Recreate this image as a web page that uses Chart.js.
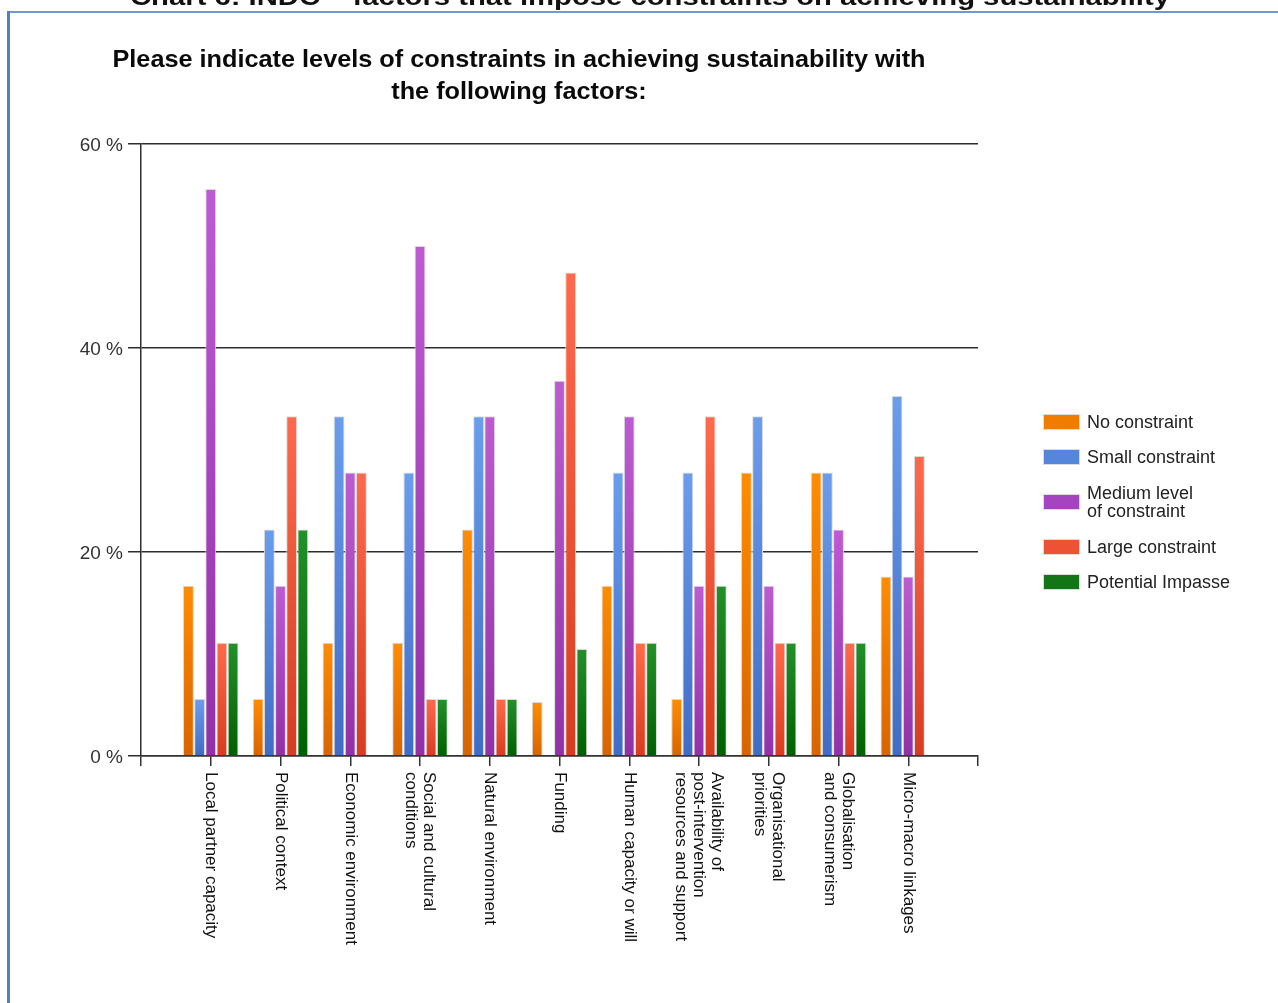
<!DOCTYPE html>
<html>
<head>
<meta charset="utf-8">
<title>Constraints in achieving sustainability</title>
<script src="https://cdn.jsdelivr.net/npm/chart.js@4.4.1/dist/chart.umd.min.js"></script>
<style>
  html, body { margin: 0; padding: 0; background: #ffffff; overflow: hidden; }
  #wrap { position: relative; width: 1278px; height: 1003px; overflow: hidden; }
  #chart { position: absolute; left: 0; top: 0; }
</style>
</head>
<body>
<div id="wrap"><canvas id="chart" width="1278" height="1003"></canvas></div>
<script>
// Survey factors (x axis), one entry per group; inner arrays are the wrapped lines
const categories = [
  ['Local partner capacity'],
  ['Political context'],
  ['Economic environment'],
  ['Social and cultural', 'conditions'],
  ['Natural environment'],
  ['Funding'],
  ['Human capacity or will'],
  ['Availability of', 'post-intervention', 'resources and support'],
  ['Organisational', 'priorities'],
  ['Globalisation', 'and consumerism'],
  ['Micro-macro linkages']
];

// Response levels (legend); "\n" marks a line break in the legend
const seriesNames = ['No constraint', 'Small constraint', 'Medium level\nof constraint', 'Large constraint', 'Potential Impasse'];

// Share of respondents (%) per factor
const noConstraint     = [16.7,  5.6, 11.1, 11.1, 22.2,  5.3, 16.7,  5.6, 27.8, 27.8, 17.6];
const smallConstraint  = [ 5.6, 22.2, 33.3, 27.8, 33.3,  0,   27.8, 27.8, 33.3, 27.8, 35.3];
const mediumConstraint = [55.6, 16.7, 27.8, 50.0, 33.3, 36.8, 33.3, 16.7, 16.7, 22.2, 17.6];
const largeConstraint  = [11.1, 33.3, 27.8,  5.6,  5.6, 47.4, 11.1, 33.3, 11.1, 11.1, 29.4];
const impasse          = [11.1, 22.2,  0,    5.6,  5.6, 10.5, 11.1, 16.7, 11.1, 11.1,  0  ];

// Y axis ticks
const yTicks = [0, 20, 40, 60];

const titleLines = ['Please indicate levels of constraints in achieving sustainability with', 'the following factors:'];
const captionText = 'Chart 6: INDC \u2013 factors that impose constraints on achieving sustainability';

// Bar shading: top colour, bottom colour, legend swatch colour
const barTop    = ['#ff8c00', '#6b9ded', '#bd5bd2', '#ff6a4c', '#23902a'];
const barBottom = ['#d86400', '#3f6cc6', '#9230a8', '#d83c1e', '#006000'];
const swatch    = ['#f07c00', '#5486dc', '#a444c0', '#ee5234', '#137515'];

const FONT = '"Liberation Sans", Arial, sans-serif';

// One empty slot on each side so the groups sit at 1..11 of a 0..12 axis
const slotLabels = ['', ...categories.map(c => c.join(' ')), ''];
const pad = arr => [null, ...arr, null];

function shade(i) {
  return function (c) {
    const y = c.chart.scales && c.chart.scales.y;
    if (!y || c.type !== 'data' || c.raw == null) return barBottom[i];
    const y0 = y.getPixelForValue(c.raw);
    const y1 = y.getPixelForValue(0);
    if (!isFinite(y0) || !isFinite(y1) || y1 - y0 < 1) return barTop[i];
    const g = c.chart.ctx.createLinearGradient(0, y0, 0, y1);
    g.addColorStop(0, barTop[i]);
    g.addColorStop(1, barBottom[i]);
    return g;
  };
}

const seriesValues = [noConstraint, smallConstraint, mediumConstraint, largeConstraint, impasse];

const datasets = seriesValues.map((vals, i) => ({
  label: seriesNames[i],
  data: pad(vals),
  backgroundColor: shade(i),
  borderColor: '#d9d9d9',
  borderWidth: 1,
  borderSkipped: 'bottom',
  categoryPercentage: 0.8,
  barPercentage: 0.97
}));

// Caption, frame, title, rotated category labels and legend
const decor = {
  id: 'decor',
  beforeDraw(chart) {
    const ctx = chart.ctx;
    ctx.save();
    ctx.fillStyle = '#ffffff';
    ctx.fillRect(0, 0, chart.width, chart.height);
    // caption above the frame (mostly cut off by the page edge)
    ctx.fillStyle = '#111111';
    ctx.font = 'bold 24px ' + FONT;
    const cw = ctx.measureText(captionText).width;
    ctx.translate(650, 0);
    ctx.scale(1040 / cw, 1);
    ctx.textAlign = 'center';
    ctx.textBaseline = 'alphabetic';
    ctx.fillText(captionText, 0, 5);
    ctx.restore();
    // frame
    ctx.save();
    ctx.fillStyle = '#7199cd';
    ctx.fillRect(7, 11, chart.width - 7, 2);
    ctx.fillStyle = '#4f81bd';
    ctx.fillRect(7, 11, 3, chart.height - 11);
    ctx.restore();
  },
  afterDraw(chart) {
    const ctx = chart.ctx;
    // title
    ctx.save();
    ctx.fillStyle = '#0a0a0a';
    ctx.font = 'bold 24.5px ' + FONT;
    const tw = ctx.measureText(titleLines[0]).width;
    ctx.translate(519, 0);
    ctx.scale(813 / tw, 1);
    ctx.textAlign = 'center';
    ctx.textBaseline = 'alphabetic';
    ctx.fillText(titleLines[0], 0, 67);
    ctx.fillText(titleLines[1], 0, 99);
    ctx.restore();

    // category labels, rotated to read downwards
    const xs = chart.scales.x;
    const LH = 18;
    ctx.save();
    ctx.fillStyle = '#111111';
    ctx.font = '17px ' + FONT;
    categories.forEach((lines, i) => {
      const px = xs.getPixelForValue(i + 1);
      lines.forEach((t, k) => {
        const off = ((lines.length - 1) / 2 - k) * LH;
        ctx.save();
        ctx.translate(px + off, 772);
        ctx.rotate(Math.PI / 2);
        ctx.textAlign = 'left';
        ctx.textBaseline = 'middle';
        ctx.fillText(t, 0, 0);
        ctx.restore();
      });
    });
    ctx.restore();

    // legend
    ctx.save();
    ctx.font = '18px ' + FONT;
    ctx.textBaseline = 'middle';
    ctx.textAlign = 'left';
    let cy = 422;
    let prevExtra = 0;
    chart.data.datasets.forEach((ds, i) => {
      const lines = String(ds.label).split('\n');
      const extra = (lines.length - 1) * 10;
      if (i > 0) cy += 35 + prevExtra + extra;
      prevExtra = extra;
      ctx.fillStyle = '#dcdcdc';
      ctx.fillRect(1043, cy - 8, 37, 16);
      ctx.fillStyle = swatch[i];
      ctx.fillRect(1044, cy - 7, 35, 14);
      ctx.fillStyle = '#222222';
      lines.forEach((t, k) => {
        ctx.fillText(t, 1087, cy + 1 + (k - (lines.length - 1) / 2) * 18);
      });
    });
    ctx.restore();
  }
};

new Chart(document.getElementById('chart'), {
  type: 'bar',
  data: { labels: slotLabels, datasets },
  plugins: [decor],
  options: {
    responsive: false,
    animation: false,
    events: [],
    layout: { padding: { top: 144, right: 300, bottom: 0, left: 0 } },
    plugins: {
      legend: { display: false },
      title: { display: false },
      tooltip: { enabled: false }
    },
    scales: {
      x: {
        type: 'category',
        offset: false,
        grid: {
          offset: false,
          drawOnChartArea: false,
          drawTicks: true,
          tickLength: 10,
          color: '#333333',
          lineWidth: 1.5
        },
        border: { display: true, color: '#333333', width: 1.5 },
        ticks: { display: false, autoSkip: false },
        afterFit(scale) { scale.height = 1003 - 756; }
      },
      y: {
        min: 0,
        max: 60,
        afterBuildTicks(scale) { scale.ticks = yTicks.map(v => ({ value: v })); },
        grid: {
          color: '#2e2e2e',
          lineWidth: 1.5,
          drawTicks: true,
          tickLength: 13
        },
        border: { display: true, color: '#2e2e2e', width: 1.5 },
        ticks: {
          padding: 5,
          labelOffset: 2,
          color: '#333333',
          font: { family: FONT, size: 19 },
          callback: v => v + ' %'
        },
        afterFit(scale) { scale.width = 141; }
      }
    }
  }
});
</script>
</body>
</html>
